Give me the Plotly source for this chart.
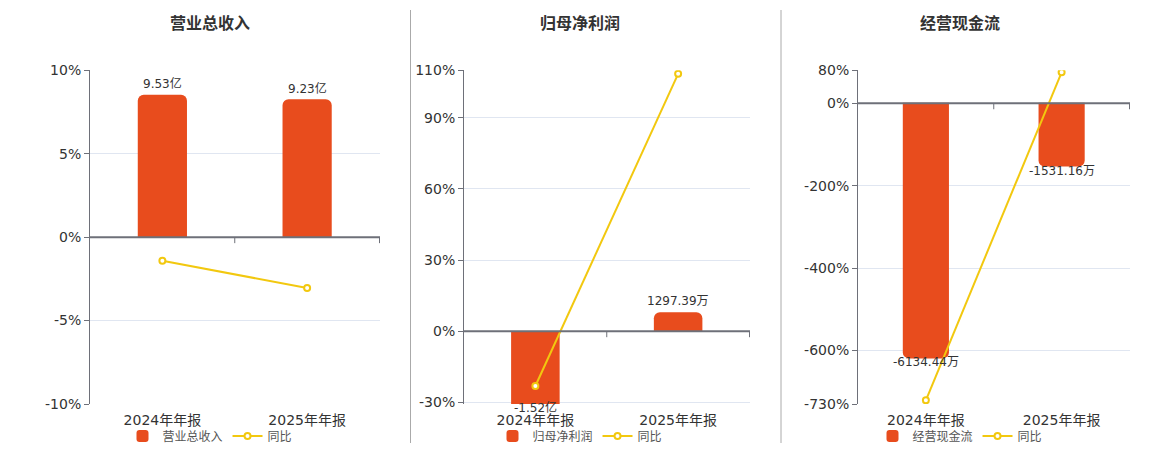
import plotly.graph_objects as go

W, H = 1160, 450
OFF = 8  # page body margin shifts the figure by this much

periods = ['2024年年报', '2025年年报']
titles = ['营业总收入', '归母净利润', '经营现金流']

# bar values (亿 for revenue, 万 for the others) and their labels
revenue = [9.53, 9.23]
revenue_text = ['9.53亿', '9.23亿']
profit = [-15200, 1297.39]
profit_text = ['-1.52亿', '1297.39万']
cashflow = [-6134.44, -1531.16]
cashflow_text = ['-6134.44万', '-1531.16万']

# 同比 (%)
revenue_yoy = [-1.41, -3.05]
profit_yoy = [-23.1, 108.5]
cashflow_yoy = [-721.0, 75.04]

revenue_ticks = [-10, -5, 0, 5, 10]
profit_ticks = [-30, 0, 30, 60, 90, 110]
cashflow_ticks = [-730, -600, -400, -200, 0, 80]

BAR = '#E84C1D'
LINE = '#F2C80F'
AXIS = '#6E7079'
GRID = '#E0E6F1'
FONT = 'DejaVu Sans, Noto Sans CJK SC, sans-serif'


def px(x):
    return (x - OFF) / W


def py(y):
    return 1 - (y - OFF) / H


panels = [
    dict(bars=revenue, text=revenue_text, yoy=revenue_yoy, ticks=revenue_ticks,
         xdom=[90, 380], pct=[-10, 10], bar_range=[-11.17, 11.17], center=210),
    dict(bars=profit, text=profit_text, yoy=profit_yoy, ticks=profit_ticks,
         xdom=[464, 750], pct=[-30.7, 110], bar_range=[-4997, 17907], center=580),
    dict(bars=cashflow, text=cashflow_text, yoy=cashflow_yoy, ticks=cashflow_ticks,
         xdom=[858, 1130], pct=[-730, 80], bar_range=[-7229, 777], center=960),
]

fig = go.Figure()
layout = dict(width=W, height=H, margin=dict(l=0, r=0, t=0, b=0, autoexpand=False),
              paper_bgcolor='white', plot_bgcolor='white',
              font=dict(family=FONT, color='#333'), showlegend=True,
              annotations=[], shapes=[])

for i, p in enumerate(panels):
    n = i + 1
    xa = 'x' if n == 1 else f'x{n}'
    ya_bar = 'y' if n == 1 else f'y{n}'
    ya_pct = f'y{n + 3}'
    legend_name = 'legend' if n == 1 else f'legend{n}'

    fig.add_trace(go.Bar(x=periods, y=p['bars'], name=titles[i], width=0.34,
                         marker=dict(color=BAR, cornerradius=6, line_width=0),
                         xaxis=xa, yaxis=ya_bar, legend=legend_name,
                         hoverinfo='skip'))
    fig.add_trace(go.Scatter(x=periods, y=p['yoy'], name='同比', mode='lines+markers',
                             line=dict(color=LINE, width=2),
                             marker=dict(symbol='circle', size=6, color='white',
                                         line=dict(color=LINE, width=2)),
                             xaxis=xa, yaxis=ya_pct, legend=legend_name,
                             hoverinfo='skip'))

    xdom = [px(p['xdom'][0]), px(p['xdom'][1])]
    ydom = [py(404), py(70.3)]
    layout[f'xaxis{"" if n == 1 else n}'] = dict(
        domain=xdom, anchor=ya_bar, type='category', showgrid=False, zeroline=False,
        showline=False, ticks='', tickfont=dict(size=14, color='#333'),
        ticklabelstandoff=6, automargin=False, fixedrange=True)
    layout[f'yaxis{"" if n == 1 else n}'] = dict(
        domain=ydom, anchor=xa, range=p['bar_range'], visible=False,
        showgrid=False, zeroline=False, automargin=False, fixedrange=True)
    layout[f'yaxis{n + 3}'] = dict(
        domain=ydom, overlaying=ya_bar, anchor=xa, side='left', range=p['pct'],
        tickvals=p['ticks'], ticktext=[f'{t}%' for t in p['ticks']],
        showgrid=True, gridcolor=GRID, gridwidth=1, zeroline=False,
        showline=True, linecolor=AXIS, linewidth=1,
        ticks='outside', ticklen=5, tickcolor=AXIS, automargin=False,
        tickfont=dict(size=14, color='#333'), fixedrange=True)

    layout[legend_name] = dict(orientation='h', x=px(p['center']), xanchor='center',
                               y=py(436), yanchor='middle',
                               font=dict(size=12, color='#555'),
                               itemwidth=30, bgcolor='rgba(0,0,0,0)')

    # zero axis line and category ticks on it
    layout['shapes'].append(dict(type='line', xref=f'{xa} domain', yref=ya_pct,
                                 x0=0, x1=1, y0=0, y1=0, layer='above',
                                 line=dict(color=AXIS, width=2)))
    for b in [0.5, 1.5]:
        layout['shapes'].append(dict(type='line', xref=xa, yref=ya_pct,
                                     x0=b, x1=b, ysizemode='pixel', yanchor=0,
                                     y0=-6, y1=0, layer='above',
                                     line=dict(color=AXIS, width=1)))

    # bar value labels
    lo = p['bar_range'][0]
    for k, v in enumerate(p['bars']):
        layout['annotations'].append(dict(
            x=periods[k], y=max(v, lo), xref=xa, yref=ya_bar, text=p['text'][k],
            showarrow=False, yanchor='middle', yshift=11 if v >= 0 else -4,
            font=dict(size=12, color='#333')))

    # panel title
    layout['annotations'].append(dict(
        x=px(p['center']), y=py(22), xref='paper', yref='paper', text=f'<b>{titles[i]}</b>',
        xanchor='center', yanchor='middle', showarrow=False,
        font=dict(size=16, color='#333', family='Noto Sans CJK SC')))

# panel dividers
for xd in [410.5, 781]:
    layout['shapes'].append(dict(type='line', xref='paper', yref='paper',
                                 x0=px(xd), x1=px(xd), y0=py(10), y1=py(443),
                                 line=dict(color='#AAAAAA', width=1)))

fig.update_layout(**layout)
fig.write_html("out.html")
